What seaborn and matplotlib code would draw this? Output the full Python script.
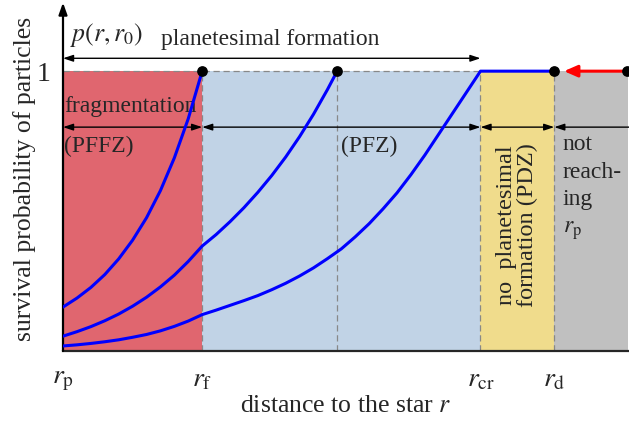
import matplotlib
matplotlib.use("Agg")
import matplotlib.pyplot as plt
import seaborn as sns
import pandas as pd

sns.set_style("white")
plt.rcParams["font.family"] = ["Liberation Serif", "DejaVu Serif"]
plt.rcParams["mathtext.fontset"] = "stix"

# Radial positions (in units of r_f - r_p)
r_p, r_f, r_mid, r_cr, r_d, r_end = 0.0, 1.0, 1.97, 3.0, 3.53, 4.06
tick_pos = [r_p, r_f, r_cr, r_d]
tick_labels = [r"$r_\mathrm{p}$", r"$r_\mathrm{f}$", r"$r_\mathrm{cr}$", r"$r_\mathrm{d}$"]

# Survival probability curves p(r, r0) for three starting radii r0
curve1_r = [0.0, 0.1, 0.2, 0.3, 0.4, 0.5, 0.6, 0.7, 0.8, 0.9, 1.0]
curve1_p = [0.157, 0.189, 0.227, 0.273, 0.329, 0.396, 0.476, 0.573, 0.69, 0.83, 1.0]

curve2_r = [0.0, 0.1, 0.2, 0.3, 0.4, 0.5, 0.6, 0.7, 0.8, 0.9, 1.0,
            1.1, 1.2, 1.3, 1.4, 1.5, 1.6, 1.7, 1.8, 1.9, 1.97]
curve2_p = [0.053, 0.069, 0.087, 0.108, 0.132, 0.16, 0.192, 0.229, 0.271, 0.32, 0.375,
            0.416, 0.462, 0.512, 0.567, 0.627, 0.693, 0.766, 0.846, 0.934, 1.0]

curve3_r = [0.0, 0.1, 0.2, 0.3, 0.4, 0.5, 0.6, 0.7, 0.8, 0.9, 1.0,
            1.1, 1.2, 1.3, 1.4, 1.5, 1.6, 1.7, 1.8, 1.9, 2.0,
            2.1, 2.2, 2.3, 2.4, 2.5, 2.6, 2.7, 2.8, 2.9, 3.0, 3.53]
curve3_p = [0.018, 0.022, 0.027, 0.033, 0.04, 0.049, 0.059, 0.072, 0.088, 0.107, 0.13,
            0.146, 0.163, 0.18, 0.198, 0.219, 0.242, 0.268, 0.297, 0.33, 0.365,
            0.408, 0.455, 0.508, 0.565, 0.63, 0.70, 0.775, 0.85, 0.925, 1.0, 1.0]

# Zones: (start, end, colour)
zone_edges = [r_p, r_f, r_cr, r_d, r_end]
zone_colors = ["#e0666f", "#c1d3e6", "#f0dc8c", "#c0c0c0"]

fig = plt.figure(figsize=(6.29, 4.23), dpi=100)
ax = fig.add_axes([63 / 629, 72 / 423, 565 / 629, 347 / 423])
ax.set_xlim(0, r_end)
ax.set_ylim(0, 1.24)

for x0, x1, c in zip(zone_edges[:-1], zone_edges[1:], zone_colors):
    ax.fill_between([x0, x1], 0, 1, color=c, lw=0, zorder=0)

dash = dict(color="#888888", lw=0.9, ls=(0, (5, 3)), zorder=1)
ax.plot([r_p, r_cr], [1, 1], **dash)
for xv in [r_f, r_mid, r_cr, r_d]:
    ax.plot([xv, xv], [0, 1], **dash)

df = pd.concat([
    pd.DataFrame({"r": curve1_r, "p": curve1_p, "r0": "a"}),
    pd.DataFrame({"r": curve2_r, "p": curve2_p, "r0": "b"}),
    pd.DataFrame({"r": curve3_r, "p": curve3_p, "r0": "c"}),
])
sns.lineplot(data=df, x="r", y="p", units="r0", estimator=None, sort=False,
             color="#0000ff", lw=2.2, ax=ax, zorder=4, legend=False)
for line in ax.lines[-3:]:
    line.set_solid_joinstyle("round")

# Markers at p = 1
ax.scatter([r_f, r_mid, r_d, 4.05], [1, 1, 1, 1], s=45, color="black",
           zorder=6, clip_on=False)
ax.annotate("", xy=(3.6, 1), xytext=(4.05, 1),
            arrowprops=dict(arrowstyle="-|>,head_length=0.8,head_width=0.35",
                            color="red", lw=2.2, shrinkA=0, shrinkB=0),
            zorder=5, annotation_clip=False)

# Axes
sns.despine(ax=ax, left=True)
ax.spines["bottom"].set_linewidth(1.6)
ax.annotate("", xy=(0, 1.245), xytext=(0, 0),
            arrowprops=dict(arrowstyle="-|>,head_length=0.7,head_width=0.25",
                            color="black", lw=1.6, shrinkA=0, shrinkB=0),
            annotation_clip=False)
ax.set_xticks(tick_pos + [r_end])
ax.set_xticklabels(tick_labels + [""], fontsize=20)
ax.set_yticks([1])
ax.set_yticklabels(["1"], fontsize=20)
ax.tick_params(axis="both", direction="inout", length=12, width=1.3, pad=6)
ax.tick_params(axis="y", length=14, pad=2)
ax.set_xlabel(r"distance to the star $r$", fontsize=18.5, labelpad=2)
ax.set_ylabel("survival probability of particles", fontsize=18.5)
ax.yaxis.set_label_coords(-0.048, 0.495)

ax.text(0.05, 1.13, r"$p(r, r_0)$", fontsize=18.5, va="center", ha="left")

# Zone arrows
arr = dict(arrowstyle="<|-|>,head_length=0.6,head_width=0.2", color="black",
           lw=1.0, shrinkA=0, shrinkB=0)
ax.annotate("", xy=(r_p, 1.046), xytext=(r_cr, 1.046), arrowprops=arr)
ax.text(1.49, 1.075, "planetesimal formation", fontsize=17, ha="center", va="bottom")

y_row = 0.80
for x0, x1 in [(r_p, r_f), (r_f, r_cr), (r_cr, r_d)]:
    ax.annotate("", xy=(x0, y_row), xytext=(x1, y_row), arrowprops=arr)
ax.annotate("", xy=(r_d, y_row), xytext=(r_end + 0.02, y_row),
            arrowprops=dict(arrowstyle="-|>,head_length=0.6,head_width=0.2",
                            color="black", lw=1.0, shrinkA=0, shrinkB=0),
            annotation_clip=False)

ax.text(0.01, 0.835, "fragmentation", fontsize=17, ha="left", va="bottom")
ax.text(0.01, 0.77, "(PFFZ)", fontsize=17, ha="left", va="top")
ax.text(2.0, 0.77, "(PFZ)", fontsize=17, ha="left", va="top")
ax.text((r_cr + r_d) / 2, 0.45, "no  planetesimal\nformation (PDZ)", fontsize=17.5,
        rotation=90, ha="center", va="center", linespacing=1.0)
ax.text(r_d + 0.06, 0.775, "not\nreach-\ning\n$r_\\mathrm{p}$", fontsize=17,
        ha="left", va="top", linespacing=1.4)

fig.savefig("out.png", dpi=100)
